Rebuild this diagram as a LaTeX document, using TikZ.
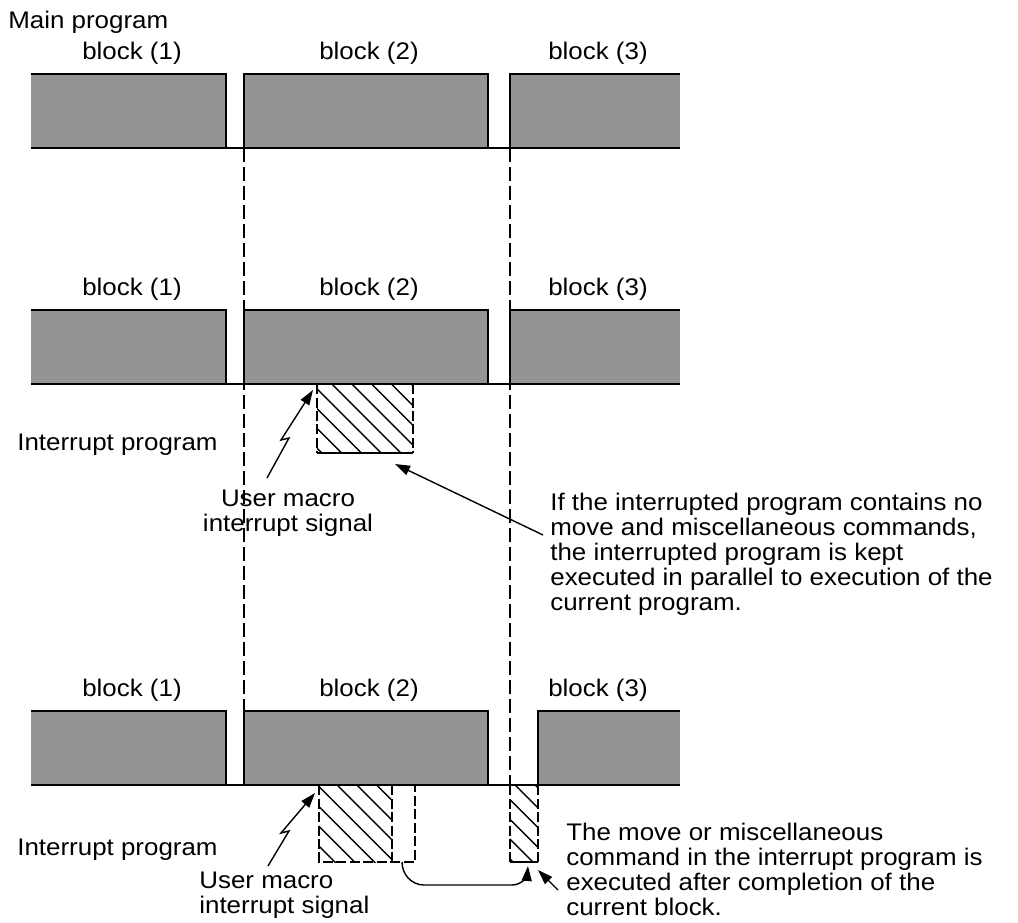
\documentclass[tikz,border=0pt]{standalone}
\usepackage{fontspec}
\setmainfont{Liberation Sans}[FakeStretch=1.08]
\usepackage{tikz}
\usetikzlibrary{arrows.meta,patterns.meta}

\begin{document}
\begin{tikzpicture}[x=0.02cm, y=-0.02cm,
		txt/.style={font=\fontsize{13.66}{14.23}\selectfont, inner sep=0pt},
		lbl/.style={txt, anchor=base},
		blk/.style={fill=black!42},
		edge/.style={line width=1.5pt},
		thin/.style={line width=0.8pt},
		guide/.style={line width=0.8pt, dash pattern=on 0.28cm off 0.1cm},
		hatch/.style={pattern={Lines[angle=-45, distance=0.28cm, line width=0.8pt]}},
		hedge/.style={line width=0.8pt, dash pattern=on 0.2cm off 0.07cm},
		ptr/.style={line width=0.8pt, -{Triangle[length=0.3cm, width=0.2cm]}}]
		\useasboundingbox (0,0) rectangle (1018,923);

		% guide lines at the start of block (2) and block (3)
		\draw[guide] (244,148) -- (244,785);
		\draw[guide] (510,148) -- (510,785);

		% main program, rows 1 and 2
		\foreach \t in {74,310} {
			\fill[blk] (31,\t) rectangle (226,\t+74);
			\fill[blk] (244,\t) rectangle (488,\t+74);
			\fill[blk] (510,\t) rectangle (680,\t+74);
			\draw[thin] (31,\t+74) -- (680,\t+74);
			\draw[edge] (31,\t) -- (226,\t) -- (226,\t+74);
			\draw[edge] (244,\t+74) -- (244,\t) -- (488,\t) -- (488,\t+74);
			\draw[edge] (510,\t+74) -- (510,\t) -- (680,\t);
			\draw[edge] (31,\t+74) -- (226,\t+74) (244,\t+74) -- (488,\t+74) (510,\t+74) -- (680,\t+74);
			\node[lbl] at (132,\t-15) {block (1)};
			\node[lbl] at (369,\t-15) {block (2)};
			\node[lbl] at (598,\t-15) {block (3)};
		}

		% row 3, block (3) delayed
		\fill[blk] (31,711) rectangle (226,785);
		\fill[blk] (244,711) rectangle (488,785);
		\fill[blk] (538,711) rectangle (680,785);
		\draw[thin] (31,785) -- (680,785);
		\draw[edge] (31,711) -- (226,711) -- (226,785);
		\draw[edge] (244,785) -- (244,711) -- (488,711) -- (488,785);
		\draw[edge] (538,785) -- (538,711) -- (680,711);
		\draw[edge] (31,785) -- (226,785) (244,785) -- (488,785) (538,785) -- (680,785);
		\node[lbl] (r3b1) at (132,696) {block (1)};
		\node[lbl] (r3b2) at (369,696) {block (2)};
		\node[lbl] (r3b3) at (598,696) {block (3)};

		\node[txt, anchor=base west] (mainlbl) at (8,28) {Main program};

		% interrupt program, row 2
		\fill[hatch] (317,384) rectangle (413,453);
		\draw[hedge] (317,384) -- (317,453);
		\draw[hedge] (413,384) -- (413,453);
		\draw[thin] (317,453) -- (413,453);

		% interrupt program, row 3
		\fill[hatch] (319,785) rectangle (392,862);
		\draw[hedge] (319,785) -- (319,862) -- (415,862) -- (415,785);
		\draw[hedge] (392,785) -- (392,862);
		\fill[hatch] (510,785) rectangle (538,862);
		\draw[hedge] (510,785) -- (510,862);
		\draw[hedge] (538,785) -- (538,862);
		\draw[thin] (510,862) -- (538,862);

		\node[txt, anchor=base west] (int2) at (17,450) {Interrupt program};
		\node[txt, anchor=base west] (int3) at (17,855) {Interrupt program};

		\node[txt, anchor=north, align=center] (sig2lbl) at (288,490) {User macro\\interrupt signal};
		\node[txt, anchor=north west, align=left] (sig3lbl) at (199,872) {User macro\\interrupt signal};

		\node[txt, anchor=north west, align=left] (note2) at (550,493) {If the interrupted program contains no\\move and miscellaneous commands,\\the interrupted program is kept\\executed in parallel to execution of the\\current program.};
		\node[txt, anchor=north west, align=left] (note3) at (566,823) {The move or miscellaneous\\command in the interrupt program is\\executed after completion of the\\current block.};

		% arrows
		\coordinate (sig2tail) at (267,478);
		\coordinate (sig2tip) at (313,390);
		\coordinate (sig3tail) at (268,866);
		\coordinate (sig3tip) at (315,793);
		\coordinate (note2tail) at (543,535);
		\coordinate (box2tip) at (395,464);
		\coordinate (note3tail) at (558,890);
		\coordinate (box3tip) at (538,870);
		\coordinate (ext3) at (402,862);
		\coordinate (late3tip) at (528,866);

		\draw[ptr] (sig2tail) -- ++(22,-40) -- ++(-8,2) -- (sig2tip);
		\draw[ptr] (sig3tail) -- ++(21,-35) -- ++(-8,2) -- (sig3tip);
		\draw[ptr] (note2tail) -- (box2tip);
		\draw[ptr] (note3tail) -- (box3tip);
		\draw[ptr] (ext3) to[out=-90, in=180] ++(22,23) -- ++(88,0) to[out=0, in=-95] (late3tip);
	\end{tikzpicture}
\end{document}
